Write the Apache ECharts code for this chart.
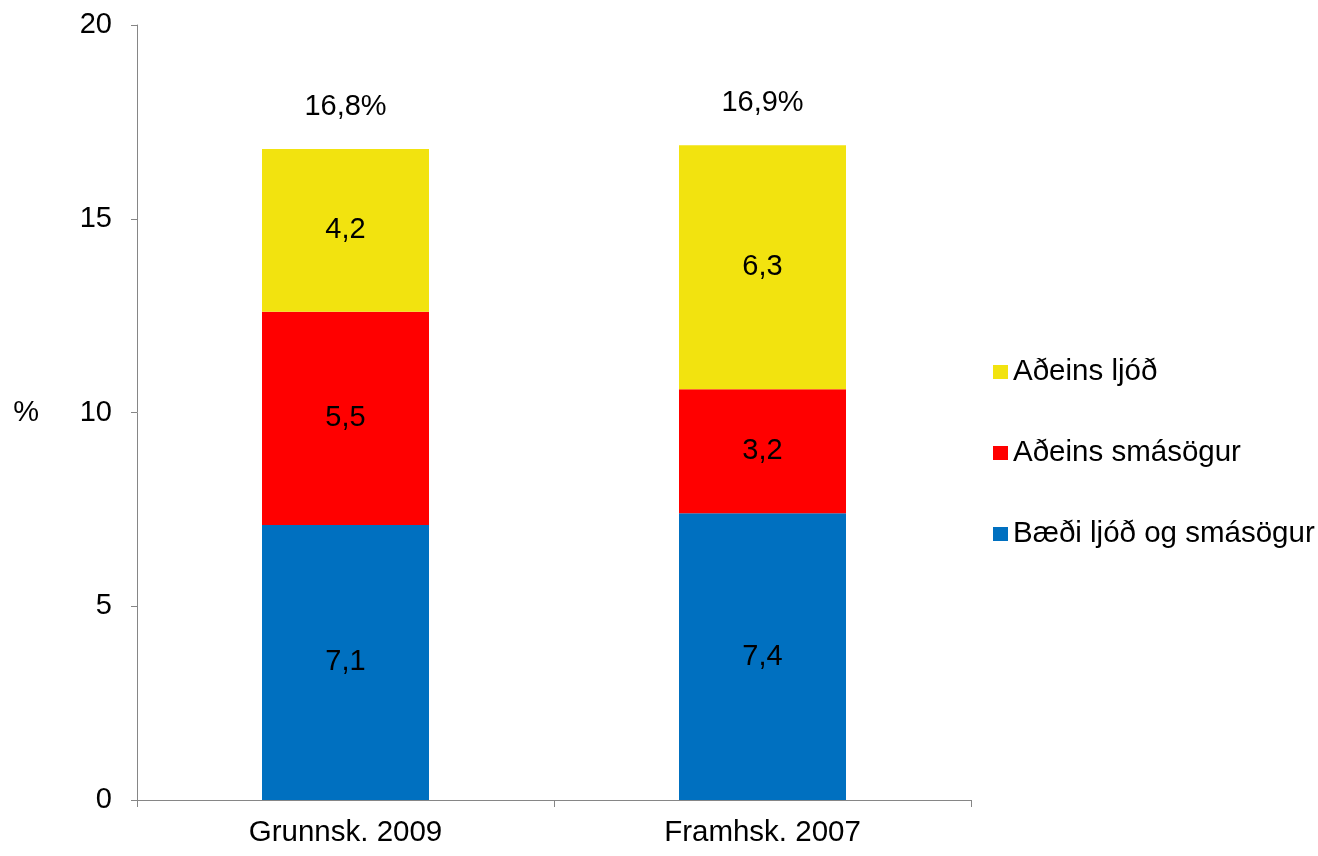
<!DOCTYPE html>
<html>
<head>
<meta charset="utf-8">
<script src="https://cdn.jsdelivr.net/npm/echarts@6/dist/echarts.min.js"></script>
<style>
  html, body { margin: 0; padding: 0; background: #fff; }
  #chart { width: 1318px; height: 856px; }
</style>
</head>
<body>
<div id="chart"></div>
<script>
const categories = ['Grunnsk. 2009', 'Framhsk. 2007'];
const baedi = [7.1, 7.4];
const smasogur = [5.5, 3.2];
const ljod = [4.2, 6.3];
const totals = [16.8, 16.9];
const yTicks = [0, 5, 10, 15, 20];

const font = 'Liberation Sans, Arial, sans-serif';
const axisGrey = '#868686';

function comma(v) {
  return String(v).replace('.', ',');
}

const chart = echarts.init(document.getElementById('chart'));

const insideLabel = {
  show: true,
  position: 'inside',
  color: '#000',
  fontFamily: font,
  fontSize: 29,
  formatter: p => comma(p.value)
};

chart.setOption({
  animation: false,
  textStyle: { fontFamily: font },
  grid: { left: 137, right: 347, top: 25, bottom: 56 },
  legend: {
    orient: 'vertical',
    left: 988,
    top: 352,
    itemWidth: 15,
    itemHeight: 14,
    itemGap: 51,
    icon: 'rect',
    data: ['Aðeins ljóð', 'Aðeins smásögur', 'Bæði ljóð og smásögur'],
    textStyle: { color: '#000', fontFamily: font, fontSize: 29.5, padding: [0, 0, 0, 0] }
  },
  xAxis: {
    type: 'category',
    data: categories,
    axisLine: { lineStyle: { color: axisGrey, width: 1 } },
    axisTick: { show: true, length: 7, lineStyle: { color: axisGrey } },
    axisLabel: { color: '#000', fontFamily: font, fontSize: 29.5, margin: 18 }
  },
  yAxis: {
    type: 'value',
    min: yTicks[0],
    max: yTicks[yTicks.length - 1],
    interval: yTicks[1] - yTicks[0],
    name: '%',
    nameLocation: 'middle',
    nameRotate: 0,
    nameGap: 98,
    nameTextStyle: { color: '#000', fontFamily: font, fontSize: 29 },
    splitLine: { show: false },
    axisLine: { show: true, lineStyle: { color: axisGrey, width: 1 } },
    axisTick: { show: true, length: 6, lineStyle: { color: axisGrey } },
    axisLabel: { color: '#000', fontFamily: font, fontSize: 29, margin: 25 }
  },
  series: [
    {
      name: 'Bæði ljóð og smásögur',
      type: 'bar',
      stack: 'total',
      barWidth: 167,
      data: baedi,
      itemStyle: { color: '#0070C0' },
      label: insideLabel
    },
    {
      name: 'Aðeins smásögur',
      type: 'bar',
      stack: 'total',
      barWidth: 167,
      data: smasogur,
      itemStyle: { color: '#FF0000' },
      label: insideLabel
    },
    {
      name: 'Aðeins ljóð',
      type: 'bar',
      stack: 'total',
      barWidth: 167,
      data: ljod,
      itemStyle: { color: '#F2E30F' },
      label: insideLabel
    },
    {
      name: 'Samtals',
      type: 'bar',
      stack: 'total',
      barWidth: 167,
      data: totals.map(() => 0),
      itemStyle: { color: 'transparent' },
      label: {
        show: true,
        position: 'top',
        distance: 28,
        color: '#000',
        fontFamily: font,
        fontSize: 29,
        formatter: p => comma(totals[p.dataIndex]) + '%'
      }
    }
  ]
});
</script>
</body>
</html>
